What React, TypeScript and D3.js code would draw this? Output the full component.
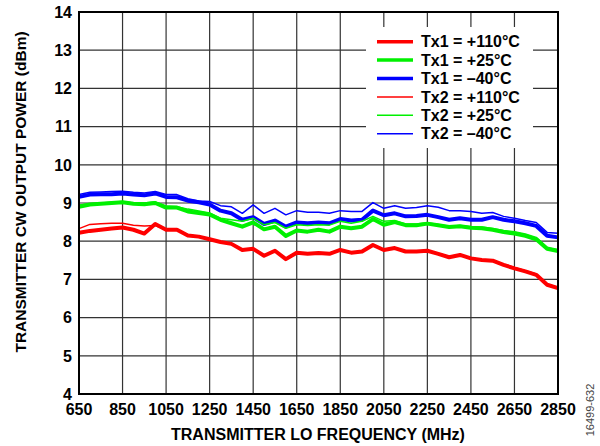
import React from "react";
import * as d3 from "d3";

const freqs: number[] = [650,700,750,800,850,900,950,1000,1050,1100,1150,1200,1250,1300,1350,1400,1450,1500,1550,1600,1650,1700,1750,1800,1850,1900,1950,2000,2050,2100,2150,2200,2250,2300,2350,2400,2450,2500,2550,2600,2650,2700,2750,2800,2850];

const tx1_110: number[] = [8.22,8.27,8.3,8.33,8.36,8.3,8.2,8.45,8.3,8.3,8.15,8.12,8.05,7.98,7.93,7.77,7.8,7.62,7.75,7.53,7.7,7.67,7.69,7.67,7.77,7.7,7.73,7.9,7.77,7.82,7.73,7.73,7.75,7.67,7.58,7.64,7.55,7.51,7.49,7.38,7.29,7.21,7.12,6.86,6.77];
const tx1_25: number[] = [8.9,8.96,8.98,9.0,9.02,8.98,8.97,9.0,8.88,8.88,8.78,8.74,8.7,8.56,8.47,8.38,8.49,8.31,8.38,8.14,8.28,8.25,8.3,8.25,8.38,8.34,8.38,8.58,8.43,8.5,8.42,8.42,8.46,8.42,8.37,8.39,8.35,8.34,8.3,8.24,8.2,8.14,8.05,7.8,7.74];
const tx1_m40: number[] = [9.16,9.22,9.23,9.23,9.25,9.22,9.2,9.25,9.16,9.15,9.06,9.02,8.96,8.8,8.73,8.56,8.63,8.45,8.54,8.38,8.49,8.47,8.49,8.47,8.58,8.54,8.56,8.8,8.68,8.73,8.65,8.66,8.69,8.63,8.56,8.6,8.56,8.56,8.63,8.56,8.52,8.47,8.4,8.14,8.1];
const tx2_110: number[] = [8.33,8.44,8.46,8.47,8.47,8.42,8.4,8.41,8.3,8.31,8.16,8.13,8.06,7.99,7.94,7.78,7.81,7.63,7.76,7.55,7.71,7.68,7.7,7.68,7.78,7.71,7.74,7.91,7.78,7.83,7.74,7.74,7.76,7.68,7.6,7.65,7.56,7.52,7.5,7.4,7.31,7.23,7.14,6.88,6.79];
const tx2_25: number[] = [8.95,8.98,9.0,9.02,9.04,9.0,9.0,9.03,8.92,8.9,8.84,8.79,8.74,8.6,8.56,8.52,8.6,8.43,8.49,8.34,8.43,8.41,8.43,8.42,8.52,8.47,8.52,8.65,8.52,8.54,8.45,8.45,8.48,8.44,8.39,8.41,8.38,8.37,8.33,8.28,8.25,8.19,8.1,7.84,7.78];
const tx2_m40: number[] = [9.22,9.28,9.29,9.3,9.31,9.28,9.26,9.3,9.22,9.22,9.11,9.05,9.04,8.93,8.9,8.73,8.95,8.73,8.86,8.69,8.8,8.76,8.76,8.73,8.8,8.78,8.78,9.01,8.86,8.93,8.86,8.88,8.93,8.89,8.8,8.8,8.78,8.73,8.75,8.65,8.6,8.54,8.49,8.23,8.21];

const xTicks: number[] = [650,850,1050,1250,1450,1650,1850,2050,2250,2450,2650,2850];
const yTicks: number[] = [4,5,6,7,8,9,10,11,12,13,14];

const seriesNames: string[] = ["Tx1 = +110°C","Tx1 = +25°C","Tx1 = –40°C","Tx2 = +110°C","Tx2 = +25°C","Tx2 = –40°C"];
const seriesData: number[][] = [tx1_110, tx1_25, tx1_m40, tx2_110, tx2_25, tx2_m40];
const seriesColors: string[] = ["#ff0000","#00f000","#0000ff","#ff0000","#00f000","#0000ff"];
const seriesWidths: number[] = [4,4,4,1.5,1.5,1.5];

const FONT = "Arial, 'Liberation Sans', sans-serif";

export default function App() {
  const W = 600, H = 446;
  const L = 79, R = 558, T = 12, B = 394;
  const x = d3.scaleLinear().domain([650, 2850]).range([L, R]);
  const y = d3.scaleLinear().domain([4, 14]).range([B, T]);
  const line = d3.line<number>().x((_, i) => x(freqs[i])).y(d => y(d));
  const gridX = d3.range(650, 2851, 200);

  const legX = 366, legY = 27, legW = 167, legH = 121;
  const legRow = (i: number) => 41.7 + i * 18.4;

  return (
    <svg width={W} height={H} style={{ position: "absolute", left: 0, top: 0, background: "#fff" }}>
      <rect x={0} y={0} width={W} height={H} fill="#fff" />
      {yTicks.map(t => (
        <line key={"gy" + t} x1={L} x2={R} y1={y(t)} y2={y(t)} stroke="#333" strokeWidth={1.2} />
      ))}
      {gridX.map(t => (
        <line key={"gx" + t} x1={x(t)} x2={x(t)} y1={T} y2={B} stroke="#333" strokeWidth={1.2} />
      ))}
      <rect x={legX} y={legY} width={legW} height={legH} fill="#fff" />
      {seriesData.map((s, i) => (
        <path key={"s" + i} d={line(s) || ""} fill="none" stroke={seriesColors[i]} strokeWidth={seriesWidths[i]} strokeLinejoin="round" />
      ))}
      <rect x={L} y={T} width={R - L} height={B - T} fill="none" stroke="#000" strokeWidth={2} />
      {yTicks.map(t => (
        <text key={"yl" + t} x={L - 7} y={y(t)} dy="0.36em" textAnchor="end" fontFamily={FONT} fontWeight="bold" fontSize={16} fill="#000">{t}</text>
      ))}
      {xTicks.map(t => (
        <text key={"xl" + t} x={x(t)} y={415} textAnchor="middle" fontFamily={FONT} fontWeight="bold" fontSize={16} fill="#000">{t}</text>
      ))}
      <text x={318} y={440} textAnchor="middle" fontFamily={FONT} fontWeight="bold" fontSize={16} fill="#000">TRANSMITTER LO FREQUENCY (MHz)</text>
      <text transform={`translate(26,192) rotate(-90)`} textAnchor="middle" fontFamily={FONT} fontWeight="bold" fontSize={15.5} fill="#000">TRANSMITTER CW OUTPUT POWER (dBm)</text>
      <text transform={`translate(594,410) rotate(-90)`} textAnchor="middle" fontFamily={FONT} fontSize={11} fill="#444">16499-632</text>
      {seriesNames.map((n, i) => (
        <g key={"lg" + i}>
          <line x1={377} x2={413} y1={legRow(i)} y2={legRow(i)} stroke={seriesColors[i]} strokeWidth={i < 3 ? 3.5 : 1.5} />
          <text x={421} y={legRow(i)} dy="0.36em" fontFamily={FONT} fontWeight="bold" fontSize={16} fill="#000">{n}</text>
        </g>
      ))}
    </svg>
  );
}
